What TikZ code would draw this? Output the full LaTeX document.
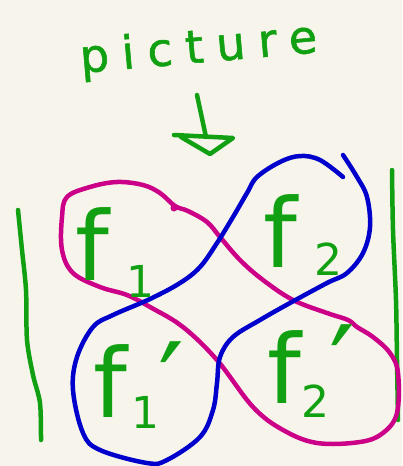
\documentclass[tikz,border=0pt]{standalone}
\usepackage{fontspec}
\setmainfont{DejaVu Sans}
\definecolor{bg}{RGB}{247,245,235}
\definecolor{pen}{RGB}{17,160,17}
\definecolor{mag}{RGB}{204,0,136}
\definecolor{blu}{RGB}{0,0,204}
\newcommand{\flab}[5]{{\fontsize{96}{96}\selectfont f}\hspace{#2}\rlap{\raisebox{-#3}{\fontsize{44}{44}\selectfont #1}}\hspace{#4}\raisebox{#5}{\fontsize{115}{115}\selectfont ′}}
\newcommand{\flabnp}[3]{{\fontsize{96}{96}\selectfont f}\hspace{#2}\raisebox{-#3}{\fontsize{44}{44}\selectfont #1}}
\begin{document}
\begin{tikzpicture}[x=1pt,y=-1pt,
  stroke/.style={line width=4.5pt,line cap=round,line join=round},
  lbl/.style={text=pen,inner sep=0pt,anchor=base west}]
\fill[bg] (0,0) rectangle (402,466);
\useasboundingbox (0,0) rectangle (402,466);
% title
\node[lbl,rotate=5] (title) at (81,73) {\fontsize{46}{46}\selectfont\addfontfeature{LetterSpace=28,FakeBold=1.2}picture};
% arrow
\draw[stroke,pen] (197,95) -- (206,137);
\draw[stroke,pen] (174,135) -- (233,138) -- (210,154) -- (181,137);
% bars
\draw[stroke,pen] plot[smooth] coordinates {(18,210) (22,250) (26,290) (27,340) (33,375) (40,403) (41,440)};
\draw[stroke,pen] plot[smooth] coordinates {(392,170) (393,230) (396,300) (397,360) (398,420)};
% magenta figure eight
\draw[stroke,mag] plot[smooth cycle,tension=0.6] coordinates {
 (175,206) (160,193) (143,185) (117,182) (90,187) (67,197) (62,217) (62,250) (73,273)
 (100,287) (127,295) (150,307) (183,327) (217,360) (253,407) (283,430) (317,443)
 (360,442) (383,433) (397,413) (398,373) (390,353) (373,337) (357,327) (348,320)
 (327,313) (293,300) (263,280) (240,260) (220,237) (207,222) (188,211)};
\fill[mag] (174,208) circle (3.5pt);
% blue figure eight
\draw[stroke,blu] plot[smooth,tension=0.6] coordinates {
 (343,177) (320,160) (300,156) (280,162) (257,177) (247,193) (233,217) (217,243)
 (200,267) (180,283) (150,299) (113,315) (93,327) (77,357) (73,390) (83,433)
 (100,450) (147,463) (167,460) (200,437) (213,410) (217,383) (220,357) (233,337)
 (260,320) (290,303) (327,283) (347,273) (363,253) (370,227) (367,197) (357,177) (343,155)};
% labels
\node[lbl] (f1) at (75,280) {\flabnp{1}{18pt}{17pt}};
\node[lbl] (f2) at (263,267) {\flabnp{2}{18pt}{8pt}};
\node[lbl] (f1p) at (93,417) {\flab{1}{5pt}{11pt}{27pt}{-8pt}};
\node[lbl] (f2p) at (267,403) {\flab{2}{1pt}{14pt}{28pt}{-5pt}};
\end{tikzpicture}
\end{document}
